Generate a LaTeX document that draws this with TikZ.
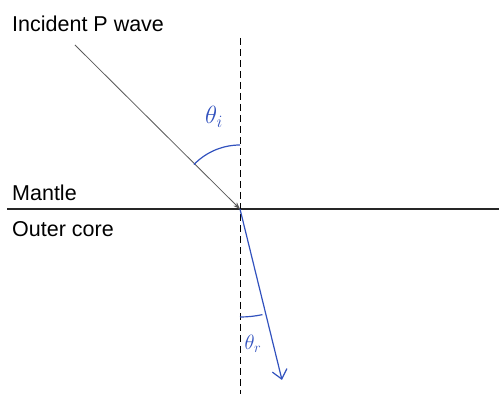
\documentclass[tikz,border=0pt]{standalone}
\usepackage{fontspec}
\setmainfont{Liberation Sans}
\usetikzlibrary{arrows.meta}
\definecolor{inkblue}{RGB}{50,82,190}

\begin{document}
\begin{tikzpicture}[x=1pt, y=1pt,
    lbl/.style={anchor=base west, inner sep=0pt, font=\fontsize{21.5}{25}\selectfont},
    ink/.style={inkblue, line width=1.2pt},
    ray/.style={gray!70!black, line width=0.8pt}]
  \useasboundingbox (0,0) rectangle (499,394);
  % --- Punkte ---
  \coordinate (hit)   at (240,185);
  \coordinate (src)   at (75,349);
  \coordinate (rend)  at (282,14);
  \coordinate (ntop)  at (240,356);
  \coordinate (nbot)  at (240,0);
  \coordinate (bleft) at (7,185);
  \coordinate (bright) at (499,185);

  % --- Texte ---
  \node[lbl] (inc) at (12,362) {Incident P wave};
  \node[lbl] (man) at (12,193) {Mantle};
  \node[lbl] (cor) at (12,157) {Outer core};

  % --- Grenzflaeche und Normale ---
  \draw[gray!30!black, line width=1.5pt] (bleft) -- (bright);
  \draw[black, line width=1pt, dash pattern=on 7pt off 4pt] (ntop) -- (nbot);

  % --- Strahlen ---
  \draw[ray, -{Stealth[length=7pt, width=5pt]}] (src) -- (hit);
  \draw[ink, -{Straight Barb[length=9pt, width=15pt]}] (hit) -- (rend);

  % --- Winkel ---
  \draw[ink] (hit) ++(90:64) arc[start angle=90, end angle=136, radius=64];
  \draw[ink] (hit) ++(-90:108) arc[start angle=-90, end angle=-78, radius=108];
  \node[inkblue, font=\fontsize{27}{30}\selectfont] (thi) at (214,277) {$\theta_i$};
  \node[inkblue, font=\fontsize{21}{24}\selectfont] (thr) at (253,50) {$\theta_r$};
\end{tikzpicture}
\end{document}
